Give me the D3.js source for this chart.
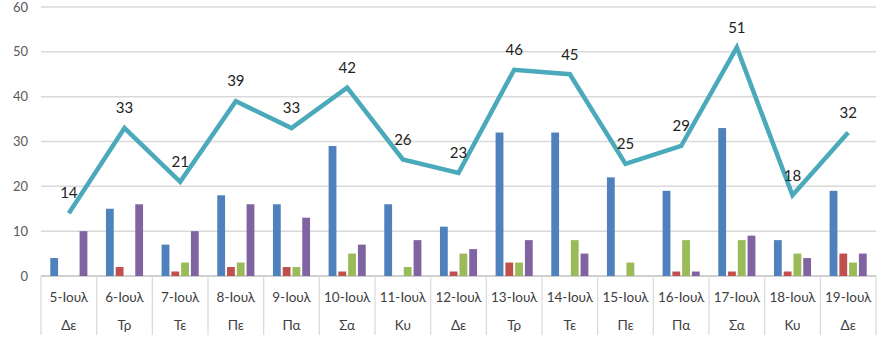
<!DOCTYPE html>
<html><head><meta charset="utf-8">
<script src="https://cdn.jsdelivr.net/npm/d3@7/dist/d3.min.js"></script>
<style>body{margin:0;background:#fff}svg{display:block}</style>
</head><body>
<svg id="c" width="880" height="350"></svg>
<script>
const dates = ["5-Ιουλ","6-Ιουλ","7-Ιουλ","8-Ιουλ","9-Ιουλ","10-Ιουλ","11-Ιουλ","12-Ιουλ","13-Ιουλ","14-Ιουλ","15-Ιουλ","16-Ιουλ","17-Ιουλ","18-Ιουλ","19-Ιουλ"];
const days = ["Δε","Τρ","Τε","Πε","Πα","Σα","Κυ","Δε","Τρ","Τε","Πε","Πα","Σα","Κυ","Δε"];
const blueVals = [4,15,7,18,16,29,16,11,32,32,22,19,33,8,19];
const redVals = [0,2,1,2,2,1,0,1,3,0,0,1,1,1,5];
const greenVals = [0,0,3,3,2,5,2,5,3,8,3,8,8,5,3];
const purpleVals = [10,16,10,16,13,7,8,6,8,5,0,1,9,4,5];
const totalVals = [14,33,21,39,33,42,26,23,46,45,25,29,51,18,32];
const yTicks = [0,10,20,30,40,50,60];

const series = [
  {vals: blueVals, color: "#4F81BD"},
  {vals: redVals, color: "#C0504D"},
  {vals: greenVals, color: "#9BBB59"},
  {vals: purpleVals, color: "#8064A2"}
];

const svg = d3.select("#c");
const mLeft = 41, mRight = 876, mTop = 7, mBottom = 276;
const x = d3.scaleBand().domain(d3.range(dates.length)).range([mLeft, mRight]).paddingInner(0).paddingOuter(0);
const y = d3.scaleLinear().domain([0,60]).range([mBottom, mTop]);
const x1 = d3.scaleBand().domain(d3.range(series.length)).range([0, x.bandwidth()]).paddingInner(0.2).paddingOuter(0.95);

// gridlines
svg.append("g").selectAll("line").data(yTicks).join("line")
  .attr("x1", mLeft).attr("x2", mRight)
  .attr("y1", d => y(d)).attr("y2", d => y(d))
  .attr("stroke", d => d === 0 ? "#bfbfbf" : "#d9d9d9").attr("stroke-width", 1.5);

// y labels
svg.append("g").selectAll("text").data(yTicks).join("text")
  .attr("x", 28).attr("y", d => y(d)).attr("dy", "0.35em")
  .attr("text-anchor", "end")
  .attr("font-family", "Lato, 'Open Sans', sans-serif").attr("font-size", 13)
  .attr("fill", "#595959").text(d => d);

// bars
series.forEach((s, si) => {
  svg.append("g").selectAll("rect").data(s.vals).join("rect")
    .attr("x", (d, i) => x(i) + x1(si))
    .attr("width", x1.bandwidth())
    .attr("y", d => y(d))
    .attr("height", d => mBottom - y(d))
    .attr("fill", s.color);
});

// category separators
const seps = d3.range(dates.length + 1);
svg.append("g").selectAll("line").data(seps).join("line")
  .attr("x1", i => i < dates.length ? x(i) : mRight).attr("x2", i => i < dates.length ? x(i) : mRight)
  .attr("y1", mBottom).attr("y2", 335)
  .attr("stroke", "#d9d9d9").attr("stroke-width", 1.2);

// category labels
svg.append("g").selectAll("text").data(dates).join("text")
  .attr("x", (d, i) => x(i) + x.bandwidth()/2).attr("y", 297).attr("dy", "0.35em")
  .attr("text-anchor", "middle")
  .attr("font-family", "Lato, 'Open Sans', sans-serif").attr("font-size", 13.5)
  .attr("fill", "#404040").text(d => d);
svg.append("g").selectAll("text").data(days).join("text")
  .attr("x", (d, i) => x(i) + x.bandwidth()/2).attr("y", 325).attr("dy", "0.35em")
  .attr("text-anchor", "middle")
  .attr("font-family", "Lato, 'Open Sans', sans-serif").attr("font-size", 13.5)
  .attr("fill", "#404040").text(d => d);

// line
const line = d3.line().x((d, i) => x(i) + x.bandwidth()/2).y(d => y(d));
svg.append("path").datum(totalVals)
  .attr("d", line).attr("fill", "none")
  .attr("stroke", "#4AA9BB").attr("stroke-width", 4.5).attr("stroke-linejoin", "miter");

// line labels
svg.append("g").selectAll("text").data(totalVals).join("text")
  .attr("x", (d, i) => x(i) + x.bandwidth()/2).attr("y", d => y(d) - 20).attr("dy", "0.35em")
  .attr("text-anchor", "middle")
  .attr("font-family", "Lato, 'Open Sans', sans-serif").attr("font-size", 15)
  .attr("fill", "#222").text(d => d);
</script>
</body></html>
